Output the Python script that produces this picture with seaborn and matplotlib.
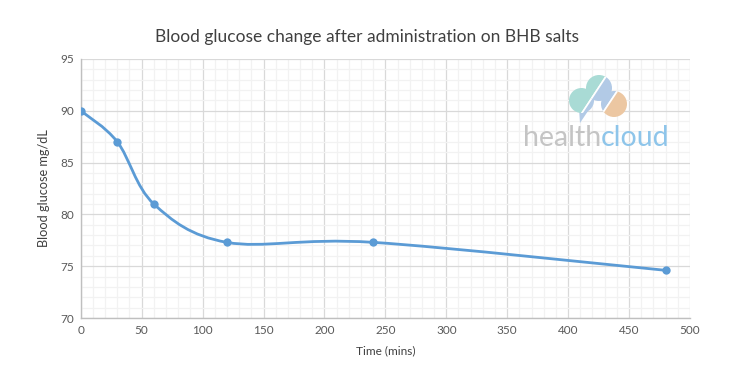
import numpy as np
import pandas as pd
import seaborn as sns
import matplotlib.pyplot as plt
from matplotlib.path import Path
from matplotlib.patches import PathPatch, Circle, Polygon
from matplotlib.ticker import MultipleLocator

# data
time_mins = [0, 30, 60, 120, 240, 480]
glucose = [90.0, 87.0, 81.0, 77.3, 77.3, 74.6]

title = "Blood glucose change after administration on BHB salts"
xlabel = "Time (mins)"
ylabel = "Blood glucose mg/dL"

line_col = "#5B9BD5"
text_col = "#595959"

sns.set_theme(style="whitegrid")
plt.rcParams['font.family'] = ['Lato', 'DejaVu Sans']

df = pd.DataFrame({'t': time_mins, 'g': glucose})

fig = plt.figure(figsize=(7.34, 3.85), dpi=100)
ax = fig.add_axes([0.110, 0.174, 0.830, 0.673])

# smoothed line like excel (catmull-rom as bezier segments)
pts = np.column_stack([df['t'], df['g']]).astype(float)
ext = np.vstack([pts[0], pts, pts[-1]])
verts = [tuple(pts[0])]
codes = [Path.MOVETO]
for i in range(1, len(ext) - 2):
    p0, p1, p2, p3 = ext[i - 1], ext[i], ext[i + 1], ext[i + 2]
    c1 = p1 + (p2 - p0) / 6
    c2 = p2 - (p3 - p1) / 6
    verts += [tuple(c1), tuple(c2), tuple(p2)]
    codes += [Path.CURVE4] * 3
ax.add_patch(PathPatch(Path(verts, codes), facecolor='none', edgecolor=line_col,
                       lw=2, zorder=3))

sns.scatterplot(data=df, x='t', y='g', ax=ax, color=line_col, s=36,
                edgecolor=line_col, linewidth=0, zorder=4)

ax.set_xlim(0, 500)
ax.set_ylim(70, 95)
ax.xaxis.set_major_locator(MultipleLocator(50))
ax.xaxis.set_minor_locator(MultipleLocator(10))
ax.yaxis.set_major_locator(MultipleLocator(5))
ax.yaxis.set_minor_locator(MultipleLocator(1))
ax.grid(which='major', color='#D9D9D9', lw=0.9)
ax.grid(which='minor', color='#F2F2F2', lw=0.9)
ax.set_axisbelow(True)
for s in ['top', 'right']:
    ax.spines[s].set_visible(False)
for s in ['left', 'bottom']:
    ax.spines[s].set_color('#BFBFBF')
    ax.spines[s].set_linewidth(1)
ax.tick_params(axis='both', which='both', length=0, labelsize=8.5, colors=text_col, pad=5)

ax.set_xlabel(xlabel, fontsize=8.6, color='#404040', labelpad=7)
ax.set_ylabel(ylabel, fontsize=9.2, color='#404040', labelpad=7)
fig.text(0.5, 0.905, title, ha='center', va='center', fontsize=12.5, color='#404040')

# healthcloud logo
ax.text(601 / 734, 0.642, "health", ha='right', va='center', fontsize=20.5,
        color='#C4C4C4', transform=fig.transFigure, zorder=6)
ax.text(601 / 734, 0.642, "cloud", ha='left', va='center', fontsize=20.5,
        color='#8EC5EA', transform=fig.transFigure, zorder=6)

lax = fig.add_axes([568 / 734, 1 - 122 / 385, 62 / 734, 49 / 385])
lax.set_xlim(0, 62)
lax.set_ylim(0, 49)
lax.axis('off')
lobes = [((13.5, 21.5), 12.5), ((31, 34), 13), ((46, 18), 13)]
regions = [
    ([(-9, -26), (60, 79), (-40, 79), (-40, -26)], '#A9DBD5'),
    ([(-9, -26), (60, 79), (68, 59), (14, -22)], '#B2CAE6'),
    ([(14, -22), (68, 59), (100, 100), (100, -30), (14, -30)], '#ECC7A2'),
]
lax.add_patch(Polygon([(11, 14), (20, 11), (12, -1)], closed=True,
                      facecolor='#B2CAE6', lw=0, clip_on=False))
for centre, r in lobes:
    circ = Circle(centre, r, transform=lax.transData)
    for poly, col in regions:
        p = Polygon(poly, closed=True, facecolor=col, edgecolor='white', lw=1.2)
        lax.add_patch(p)
        p.set_clip_path(circ)

fig.savefig('out.png', dpi=100)
